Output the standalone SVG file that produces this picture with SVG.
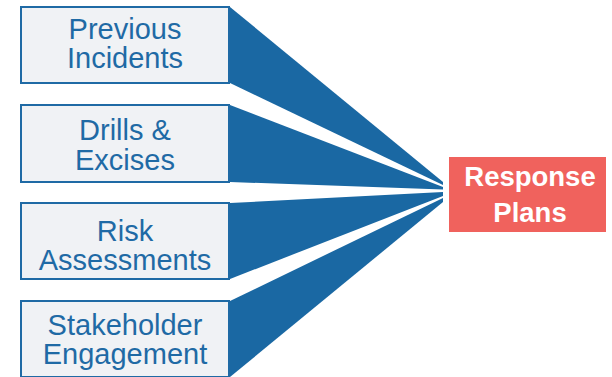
<svg xmlns="http://www.w3.org/2000/svg" width="612" height="377" viewBox="0 0 612 377">
<style>
.box{fill:#f0f2f5;stroke:#1f6aa5;stroke-width:2}
.lbl{font-family:"Liberation Sans",Arial,sans-serif;font-size:29px;fill:#1f6aa5;text-anchor:middle}
.fan{fill:#1a68a3}
.tgt{fill:#f0625d}
.tl{font-family:"Liberation Sans",Arial,sans-serif;font-size:27.5px;font-weight:bold;fill:#ffffff;text-anchor:middle}
</style>
<rect width="612" height="377" fill="#ffffff"/>
<g id="connectors">
<polygon class="fan" points="230,7 443,182 443,185 230,83"/>
<polygon class="fan" points="230,105 443,187 443,189.5 230,182"/>
<polygon class="fan" points="230,203 443,192 443,196 230,279"/>
<polygon class="fan" points="230,301 443,198 443,202 230,377"/>
</g>
<g id="previous-incidents">
<rect class="box" x="21" y="7" width="208" height="76"/>
<text class="lbl" x="125" y="39">Previous</text>
<text class="lbl" x="125" y="68">Incidents</text>
</g>
<g id="drills-excises">
<rect class="box" x="21" y="105" width="208" height="77"/>
<text class="lbl" x="125" y="140">Drills &amp;</text>
<text class="lbl" x="125" y="170">Excises</text>
</g>
<g id="risk-assessments">
<rect class="box" x="21" y="203" width="208" height="76"/>
<text class="lbl" x="125" y="241">Risk</text>
<text class="lbl" x="125" y="270">Assessments</text>
</g>
<g id="stakeholder-engagement">
<rect class="box" x="21" y="301" width="208" height="76"/>
<text class="lbl" x="125" y="335">Stakeholder</text>
<text class="lbl" x="125" y="364">Engagement</text>
</g>
<g id="response-plans">
<rect class="tgt" x="449" y="157" width="157" height="75"/>
<text class="tl" x="530" y="186">Response</text>
<text class="tl" x="530" y="222">Plans</text>
</g>
</svg>
